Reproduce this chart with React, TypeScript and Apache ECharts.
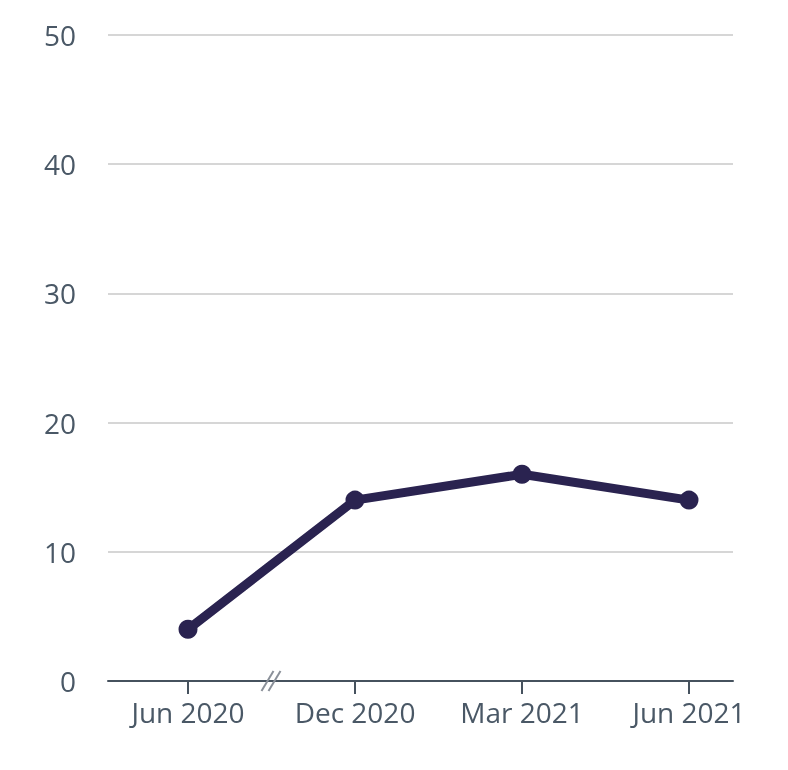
import React, { useEffect, useRef } from "react";
import * as echarts from "echarts";

const categories = ["Jun 2020", "Dec 2020", "Mar 2021", "Jun 2021"];
const values = [4, 14, 16, 14];
const yTicks = [0, 10, 20, 30, 40, 50];

const FONT = "Open Sans";
const TEXT = "#4a5866";
const AXIS = "#46525e";
const LINE = "#2a2350";

export default function App() {
  const ref = useRef<HTMLDivElement>(null);
  useEffect(() => {
    if (!ref.current) return;
    const chart = echarts.init(ref.current, null, { renderer: "svg" });
    const yMin = yTicks[0];
    const yMax = yTicks[yTicks.length - 1];
    const yInt = yTicks[1] - yTicks[0];
    chart.setOption({
      animation: false,
      textStyle: { fontFamily: FONT },
      grid: [
        { left: 108, right: 55, top: 35, bottom: 89 },
        { left: 104.5, right: 15.5, top: 35, bottom: 89 },
      ],
      xAxis: [
        {
          gridIndex: 0,
          type: "category",
          data: categories,
          axisLine: { show: true, lineStyle: { color: AXIS, width: 2 } },
          axisTick: { show: false },
          axisLabel: { show: false },
          splitLine: { show: false },
        },
        {
          gridIndex: 1,
          type: "category",
          data: categories,
          boundaryGap: true,
          axisLine: { show: false },
          axisTick: { show: true, alignWithLabel: true, length: 13, lineStyle: { color: AXIS, width: 2 } },
          axisLabel: { color: TEXT, fontSize: 28, fontFamily: FONT, margin: 17 },
          splitLine: { show: false },
        },
      ],
      yAxis: [
        {
          gridIndex: 0,
          type: "value",
          min: yMin,
          max: yMax,
          interval: yInt,
          axisLine: { show: false },
          axisTick: { show: false },
          axisLabel: { color: TEXT, fontSize: 28, fontFamily: FONT, margin: 32 },
          splitLine: { show: true, lineStyle: { color: "#c8c8c8", width: 1.5 } },
        },
        {
          gridIndex: 1,
          type: "value",
          min: yMin,
          max: yMax,
          interval: yInt,
          show: false,
        },
      ],
      series: [
        {
          type: "line",
          xAxisIndex: 1,
          yAxisIndex: 1,
          data: values,
          lineStyle: { color: LINE, width: 9 },
          itemStyle: { color: LINE },
          symbol: "circle",
          symbolSize: 19,
          z: 5,
        },
      ],
    });
    const p0 = chart.convertToPixel({ xAxisIndex: 1, yAxisIndex: 1 } as any, [0, 0]) as number[];
    const p1 = chart.convertToPixel({ xAxisIndex: 1, yAxisIndex: 1 } as any, [1, 0]) as number[];
    const cx = (p0[0] + p1[0]) / 2;
    const cy = p0[1];
    const breakStyle = { stroke: "#8a9099", lineWidth: 2 };
    chart.setOption({
      graphic: [
        { type: "line", shape: { x1: cx - 10, y1: cy + 10, x2: cx + 2, y2: cy - 10 }, style: breakStyle, z: 10 },
        { type: "line", shape: { x1: cx - 3, y1: cy + 10, x2: cx + 9, y2: cy - 10 }, style: breakStyle, z: 10 },
      ],
    });
    return () => chart.dispose();
  }, []);
  return <div ref={ref} style={{ position: "fixed", left: 0, top: 0, width: 788, height: 770 }} />;
}
